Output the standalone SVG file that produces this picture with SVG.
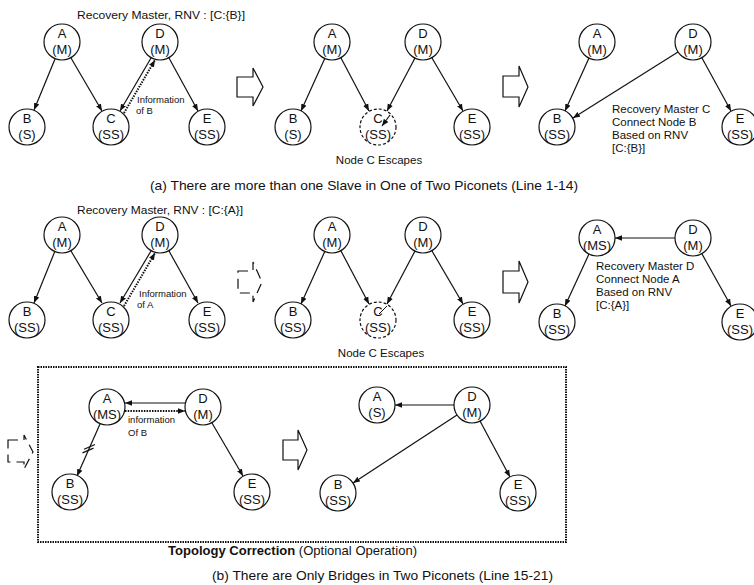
<svg xmlns="http://www.w3.org/2000/svg" width="754" height="585" viewBox="0 0 754 585">
<style>
.n circle{fill:#fff;stroke:#111;stroke-width:1.2}
.n text{font-family:"Liberation Sans",Arial,sans-serif;font-size:13px;fill:#111;text-anchor:middle}
.esc circle{stroke-dasharray:3 2}
.e{stroke:#111;stroke-width:1.2;fill:none;marker-end:url(#ah)}
.d{stroke:#111;stroke-width:2;fill:none;stroke-dasharray:1.5 1.2;marker-end:url(#ah)}
.t{font-family:"Liberation Sans",Arial,sans-serif;font-size:11.5px;fill:#111}
.s{font-family:"Liberation Sans",Arial,sans-serif;font-size:9.5px;fill:#111}
.cap{font-family:"Liberation Sans",Arial,sans-serif;font-size:13px;fill:#111}
.ha{fill:#fff;stroke:#111;stroke-width:1.2}
.hb{fill:#fff;stroke:#111;stroke-width:1.2;stroke-dasharray:10 6}
</style>
<defs>
<marker id="ah" viewBox="0 0 10 10" refX="10" refY="5" markerWidth="7" markerHeight="7" orient="auto" markerUnits="userSpaceOnUse"><path d="M0,1 L10,5 L0,9 z" fill="#111"/></marker>
</defs>

<text class="t" x="77" y="19" textLength="168" lengthAdjust="spacingAndGlyphs">Recovery Master, RNV : [C:{B}]</text>
<g id="connectors">
<line class="e" x1="55" y1="59" x2="34" y2="110"/>
<line class="e" x1="71" y1="58" x2="102" y2="111"/>
<line class="e" x1="151" y1="58" x2="120" y2="111"/>
<line class="d" x1="124" y1="113" x2="155" y2="60"/>
<line class="e" x1="169" y1="58" x2="198" y2="111"/>

<line class="e" x1="325" y1="58" x2="301" y2="111"/>
<line class="e" x1="341" y1="58" x2="369" y2="111"/>
<line class="e" x1="415" y1="58" x2="387" y2="111"/>
<line class="e" x1="432" y1="58" x2="463" y2="111"/>
<line class="e" x1="390" y1="115" x2="382" y2="126"/>

<line class="e" x1="589" y1="58" x2="565" y2="111"/>
<line class="e" x1="678" y1="52" x2="573" y2="118"/>
<line class="e" x1="702" y1="58" x2="731" y2="111"/>

<line class="e" x1="55" y1="251" x2="34" y2="303"/>
<line class="e" x1="71" y1="251" x2="102" y2="303"/>
<line class="e" x1="151" y1="251" x2="120" y2="303"/>
<line class="d" x1="124" y1="306" x2="155" y2="253"/>
<line class="e" x1="169" y1="251" x2="198" y2="303"/>

<line class="e" x1="325" y1="251" x2="301" y2="304"/>
<line class="e" x1="341" y1="251" x2="369" y2="304"/>
<line class="e" x1="415" y1="251" x2="387" y2="304"/>
<line class="e" x1="432" y1="251" x2="463" y2="304"/>
<line stroke="#111" stroke-width="1" x1="387" y1="306" x2="379" y2="314"/>

<line class="e" x1="675" y1="238" x2="615" y2="238"/>
<line class="e" x1="589" y1="254" x2="565" y2="306"/>
<line class="e" x1="702" y1="254" x2="731" y2="306"/>

<line class="e" x1="185" y1="403" x2="125" y2="403"/>
<line class="d" x1="125" y1="411" x2="185" y2="411"/>
<line class="e" x1="100" y1="424" x2="77" y2="476"/>
<line stroke="#111" stroke-width="1.2" x1="84" y1="449.3" x2="95" y2="444.5"/>
<line stroke="#111" stroke-width="1.2" x1="82.5" y1="452.9" x2="93.5" y2="448.1"/>
<line class="e" x1="212" y1="423" x2="243" y2="476"/>

<line class="e" x1="454" y1="405" x2="395" y2="405"/>
<line class="e" x1="457" y1="415" x2="353" y2="483"/>
<line class="e" x1="480" y1="421" x2="510" y2="477"/>
</g>

<g id="r1p1">
<g id="r1p1-A" class="n"><circle cx="62" cy="42" r="18"/><text x="62" y="38">A</text><text x="62" y="54">(M)</text></g>
<g id="r1p1-D" class="n"><circle cx="160" cy="42" r="18"/><text x="160" y="38">D</text><text x="160" y="54">(M)</text></g>
<g id="r1p1-B" class="n"><circle cx="27" cy="127" r="18"/><text x="27" y="123">B</text><text x="27" y="139">(S)</text></g>
<g id="r1p1-C" class="n"><circle cx="111" cy="127" r="18"/><text x="111" y="123">C</text><text x="111" y="139">(SS)</text></g>
<g id="r1p1-E" class="n"><circle cx="207" cy="127" r="18"/><text x="207" y="123">E</text><text x="207" y="139">(SS)</text></g>
<text class="s" x="137" y="103">Information</text>
<text class="s" x="136" y="114">of B</text>
</g>

<g id="r1p2">
<g id="r1p2-A" class="n"><circle cx="332" cy="42" r="18"/><text x="332" y="38">A</text><text x="332" y="54">(M)</text></g>
<g id="r1p2-D" class="n"><circle cx="423" cy="42" r="18"/><text x="423" y="38">D</text><text x="423" y="54">(M)</text></g>
<g id="r1p2-B" class="n"><circle cx="293" cy="127" r="18"/><text x="293" y="123">B</text><text x="293" y="139">(S)</text></g>
<g id="r1p2-C" class="n esc"><circle cx="378" cy="127" r="18" style="fill:none"/><text x="378" y="123">C</text><text x="378" y="139">(SS)</text></g>
<g id="r1p2-E" class="n"><circle cx="472" cy="127" r="18"/><text x="472" y="123">E</text><text x="472" y="139">(SS)</text></g>
<text class="t" x="379" y="164" text-anchor="middle">Node C Escapes</text>
</g>

<g id="r1p3">
<g id="r1p3-A" class="n"><circle cx="597" cy="42" r="18"/><text x="597" y="38">A</text><text x="597" y="54">(M)</text></g>
<g id="r1p3-D" class="n"><circle cx="693" cy="42" r="18"/><text x="693" y="38">D</text><text x="693" y="54">(M)</text></g>
<g id="r1p3-B" class="n"><circle cx="557" cy="127" r="18"/><text x="557" y="123">B</text><text x="557" y="139">(SS)</text></g>
<g id="r1p3-E" class="n"><circle cx="740" cy="127" r="18"/><text x="740" y="123">E</text><text x="740" y="139">(SS)</text></g>
<text class="t" x="612" y="113">Recovery Master C</text>
<text class="t" x="612" y="126">Connect Node B</text>
<text class="t" x="612" y="139">Based on RNV</text>
<text class="t" x="612" y="152">[C:{B}]</text>
</g>

<g id="arrows1">
<path class="ha" d="M237,77 H253 V68 L263,87 L253,106 V97 H237 Z"/>
<path class="ha" d="M503,76 H519 V66 L528,87 L519,107 V97 H503 Z"/>
</g>
<text class="cap" x="150" y="190" textLength="428" lengthAdjust="spacingAndGlyphs">(a) There are more than one Slave in One of Two Piconets (Line 1-14)</text>

<text class="t" x="77" y="214" textLength="166" lengthAdjust="spacingAndGlyphs">Recovery Master, RNV : [C:{A}]</text>
<g id="r2p1">
<g id="r2p1-A" class="n"><circle cx="62" cy="235" r="18"/><text x="62" y="231">A</text><text x="62" y="247">(M)</text></g>
<g id="r2p1-D" class="n"><circle cx="160" cy="235" r="18"/><text x="160" y="231">D</text><text x="160" y="247">(M)</text></g>
<g id="r2p1-B" class="n"><circle cx="27" cy="320" r="18"/><text x="27" y="316">B</text><text x="27" y="332">(SS)</text></g>
<g id="r2p1-C" class="n"><circle cx="111" cy="320" r="18"/><text x="111" y="316">C</text><text x="111" y="332">(SS)</text></g>
<g id="r2p1-E" class="n"><circle cx="207" cy="320" r="18"/><text x="207" y="316">E</text><text x="207" y="332">(SS)</text></g>
<text class="s" x="139" y="297">Information</text>
<text class="s" x="137" y="308">of A</text>
</g>

<g id="r2p2">
<g id="r2p2-A" class="n"><circle cx="332" cy="235" r="18"/><text x="332" y="231">A</text><text x="332" y="247">(M)</text></g>
<g id="r2p2-D" class="n"><circle cx="423" cy="235" r="18"/><text x="423" y="231">D</text><text x="423" y="247">(M)</text></g>
<g id="r2p2-B" class="n"><circle cx="293" cy="320" r="18"/><text x="293" y="316">B</text><text x="293" y="332">(SS)</text></g>
<g id="r2p2-C" class="n esc"><circle cx="378" cy="320" r="18" style="fill:none"/><text x="378" y="316">C</text><text x="378" y="332">(SS)</text></g>
<g id="r2p2-E" class="n"><circle cx="472" cy="320" r="18"/><text x="472" y="316">E</text><text x="472" y="332">(SS)</text></g>
<text class="t" x="381" y="357" text-anchor="middle">Node C Escapes</text>
</g>

<g id="r2p3">
<g id="r2p3-A" class="n"><circle cx="597" cy="238" r="18"/><text x="597" y="234">A</text><text x="597" y="250">(MS)</text></g>
<g id="r2p3-D" class="n"><circle cx="693" cy="238" r="18"/><text x="693" y="234">D</text><text x="693" y="250">(M)</text></g>
<g id="r2p3-B" class="n"><circle cx="557" cy="322" r="18"/><text x="557" y="318">B</text><text x="557" y="334">(SS)</text></g>
<g id="r2p3-E" class="n"><circle cx="740" cy="322" r="18"/><text x="740" y="318">E</text><text x="740" y="334">(SS)</text></g>
<text class="t" x="596" y="270">Recovery Master D</text>
<text class="t" x="596" y="283">Connect Node A</text>
<text class="t" x="596" y="296">Based on RNV</text>
<text class="t" x="596" y="309">[C:{A}]</text>
</g>

<g id="arrows2">
<path class="hb" d="M238,271 H253 V262 L262,282 L253,302 V293 H238 Z"/>
<path class="ha" d="M503,271 H519 V261 L528,282 L519,303 V293 H503 Z"/>
<path class="hb" d="M8,440 H24 V435 L33,452 L24,469 V462 H8 Z"/>
<path class="ha" d="M283,440 H298 V430 L307,450 L298,470 V460 H283 Z"/>
</g>

<rect x="38" y="367" width="528" height="175" fill="none" stroke="#111" stroke-width="2" stroke-dasharray="1.5 1"/>
<g id="r3p1">
<g id="r3p1-A" class="n"><circle cx="107" cy="407" r="18"/><text x="107" y="403">A</text><text x="107" y="419">(MS)</text></g>
<g id="r3p1-D" class="n"><circle cx="203" cy="407" r="18"/><text x="203" y="403">D</text><text x="203" y="419">(M)</text></g>
<g id="r3p1-B" class="n"><circle cx="70" cy="492" r="18"/><text x="70" y="488">B</text><text x="70" y="504">(SS)</text></g>
<g id="r3p1-E" class="n"><circle cx="252" cy="492" r="18"/><text x="252" y="488">E</text><text x="252" y="504">(SS)</text></g>
<text class="s" x="128" y="423">information</text>
<text class="s" x="128" y="436">Of B</text>
</g>
<g id="r3p2">
<g id="r3p2-A" class="n"><circle cx="377" cy="405" r="18"/><text x="377" y="401">A</text><text x="377" y="417">(S)</text></g>
<g id="r3p2-D" class="n"><circle cx="472" cy="405" r="18"/><text x="472" y="401">D</text><text x="472" y="417">(M)</text></g>
<g id="r3p2-B" class="n"><circle cx="338" cy="493" r="18"/><text x="338" y="489">B</text><text x="338" y="505">(SS)</text></g>
<g id="r3p2-E" class="n"><circle cx="518" cy="493" r="18"/><text x="518" y="489">E</text><text x="518" y="505">(SS)</text></g>
</g>
<text class="cap" x="168" y="555" textLength="249" lengthAdjust="spacingAndGlyphs"><tspan font-weight="bold">Topology Correction</tspan> (Optional Operation)</text>
<text class="cap" x="212" y="580" textLength="341" lengthAdjust="spacingAndGlyphs">(b) There are Only Bridges in Two Piconets (Line 15-21)</text>
</svg>
